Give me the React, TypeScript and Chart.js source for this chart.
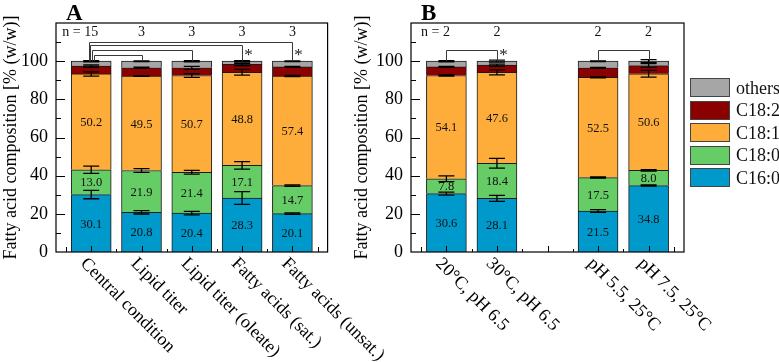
import React, { useEffect, useRef } from 'react';
import { Chart, registerables } from 'chart.js';

Chart.register(...registerables);

const W = 779;
const H = 362;
const FONT = '"Liberation Serif", "Times New Roman", serif';

// Fatty acid species, bottom to top of each stack
const seriesNames = ['C16:0', 'C18:0', 'C18:1', 'C18:2', 'others'];
const seriesColors = ['#0099CC', '#66CC66', '#FFAD3A', '#8B0000', '#A6A6A6'];

// Panel A: standard cultivation vs. optimised conditions
const catsA = ['Central condition', 'Lipid titer', 'Lipid titer (oleate)', 'Fatty acids (sat.)', 'Fatty acids (unsat.)'];
const posA = [1, 2, 3, 4, 5];
const c160A = [30.1, 20.8, 20.4, 28.3, 20.1];
const c180A = [13.0, 21.9, 21.4, 17.1, 14.7];
const c181A = [50.2, 49.5, 50.7, 48.8, 57.4];
const c182A = [4.1, 4.3, 4.0, 4.1, 4.8];
const othersA = [2.6, 3.5, 3.5, 1.7, 3.0];
const errC160A = [2.2, 0.9, 0.9, 3.3, 0.4];
const errC180A = [1.9, 1.0, 1.0, 2.0, 0.4];
const errC181A = [1.1, 0.2, 1.0, 1.5, 0.3];
const errC182A = [0.6, 0.3, 0.8, 0.6, 0.3];
const errOthersA = [0.3, 0.2, 0.3, 0.3, 0.2];
const nA = [15, 3, 3, 3, 3];
// pairwise comparisons: [from, to, bracket level (%), significant]
const bracketsA: [number, number, number, boolean][] = [
  [1, 5, 110, true],
  [1, 4, 108.4, true],
  [1, 3, 105.6, false],
  [1, 2, 103, false],
];

// Panel B: temperature and pH variations
const catsB = ['20°C, pH 6.5', '30°C, pH 6.5', 'pH 5.5, 25°C', 'pH 7.5, 25°C'];
const posB = [1, 2, 4, 5];
const c160B = [30.6, 28.1, 21.5, 34.8];
const c180B = [7.8, 18.4, 17.5, 8.0];
const c181B = [54.1, 47.6, 52.5, 50.6];
const c182B = [4.5, 3.8, 5.0, 4.3];
const othersB = [3.0, 2.1, 3.5, 2.3];
const errC160B = [0.8, 1.6, 0.7, 0.3];
const errC180B = [1.5, 2.6, 0.3, 0.4];
const errC181B = [0.3, 1.3, 0.3, 1.8];
const errC182B = [0.3, 0.6, 0.2, 1.0];
const errOthersB = [0.3, 0.5, 0.2, 0.8];
const nB = [2, 2, 2, 2];
const bracketsB: [number, number, number, boolean][] = [
  [1, 2, 105.6, true],
  [4, 5, 105.6, false],
];

const yTicks = [0, 20, 40, 60, 80, 100, 120];

interface PanelCfg {
  letter: string;
  cats: string[];
  pos: number[];
  series: number[][];
  errs: number[][];
  n: number[];
  brackets: [number, number, number, boolean][];
  padLeft: number;
  padRight: number;
  axisWidth: number;
}

const panelA: PanelCfg = {
  letter: 'A',
  cats: catsA,
  pos: posA,
  series: [c160A, c180A, c181A, c182A, othersA],
  errs: [errC160A, errC180A, errC181A, errC182A, errOthersA],
  n: nA,
  brackets: bracketsA,
  padLeft: 0,
  padRight: W - 327.6,
  axisWidth: 56,
};

const panelB: PanelCfg = {
  letter: 'B',
  cats: catsB,
  pos: posB,
  series: [c160B, c180B, c181B, c182B, othersB],
  errs: [errC160B, errC180B, errC181B, errC182B, errOthersB],
  n: nB,
  brackets: bracketsB,
  padLeft: 351,
  padRight: W - 684,
  axisWidth: 60,
};

function makeOverlay(cfg: PanelCfg) {
  return {
    id: 'panelOverlay',
    afterDatasetsDraw(chart: any) {
      const ctx: CanvasRenderingContext2D = chart.ctx;
      const xs = chart.scales.x;
      const ys = chart.scales.y;
      const { left, right, top, bottom } = chart.chartArea;
      ctx.save();

      // segment value labels (C16:0, C18:0, C18:1)
      ctx.font = `12.5px ${FONT}`;
      ctx.fillStyle = '#111';
      ctx.textAlign = 'center';
      ctx.textBaseline = 'middle';
      for (let d = 0; d < 3; d++) {
        const meta = chart.getDatasetMeta(d);
        meta.data.forEach((el: any, i: number) => {
          const p = el.getProps(['x', 'y', 'base'], true);
          ctx.fillText(cfg.series[d][i].toFixed(1), p.x, (p.y + p.base) / 2 + 1);
        });
      }

      // error bars at the cumulative top of each segment
      ctx.strokeStyle = '#000';
      ctx.lineWidth = 1.3;
      cfg.pos.forEach((xv, i) => {
        const cx = xs.getPixelForValue(xv);
        let cum = 0;
        for (let d = 0; d < cfg.series.length; d++) {
          cum += cfg.series[d][i];
          const e = cfg.errs[d][i];
          const y1 = ys.getPixelForValue(cum + e);
          const y2 = ys.getPixelForValue(cum - e);
          ctx.beginPath();
          ctx.moveTo(cx, y1);
          ctx.lineTo(cx, y2);
          ctx.moveTo(cx - 8, y1);
          ctx.lineTo(cx + 8, y1);
          ctx.moveTo(cx - 8, y2);
          ctx.lineTo(cx + 8, y2);
          ctx.stroke();
        }
      });

      // frame
      ctx.lineWidth = 1.2;
      ctx.strokeStyle = '#000';
      ctx.strokeRect(left, top, right - left, bottom - top);

      // y ticks (inside, left)
      ctx.lineWidth = 1;
      ctx.beginPath();
      for (let v = 10; v < 120; v += 10) {
        const y = Math.round(ys.getPixelForValue(v)) + 0.5;
        const len = v % 20 === 0 ? 9 : 5;
        ctx.moveTo(left, y);
        ctx.lineTo(left + len, y);
      }
      // x ticks (inside, bottom)
      for (let v = 0.5; v <= 5.5; v += 0.5) {
        const x = Math.round(xs.getPixelForValue(v)) + 0.5;
        let len = Number.isInteger(v) ? 6 : 3;
        if (v === 0.5 || v === 5.5) len = 5;
        ctx.moveTo(x, bottom);
        ctx.lineTo(x, bottom - len);
      }
      ctx.stroke();

      // sample counts
      ctx.font = `14px ${FONT}`;
      ctx.fillStyle = '#111';
      const yN = ys.getPixelForValue(115);
      cfg.pos.forEach((xv, i) => {
        const cx = xs.getPixelForValue(xv);
        const txt = String(cfg.n[i]);
        ctx.textAlign = 'center';
        ctx.fillText(txt, cx, yN);
        if (i === 0) {
          ctx.textAlign = 'right';
          ctx.fillText('n = ', cx - ctx.measureText(txt).width / 2, yN);
        }
      });

      // comparison brackets
      ctx.strokeStyle = '#3a3a3a';
      ctx.lineWidth = 1;
      const yBar = ys.getPixelForValue(100);
      cfg.brackets.forEach((b, k) => {
        const group = cfg.brackets.filter((o) => o[0] === b[0]);
        const idx = group.indexOf(b);
        const off = (idx - (group.length - 1) / 2) * 1.7;
        const x1 = Math.round(xs.getPixelForValue(b[0]) + off) + 0.5;
        const x2 = Math.round(xs.getPixelForValue(b[1])) + 0.5;
        const yl = Math.round(ys.getPixelForValue(b[2])) + 0.5;
        ctx.beginPath();
        ctx.moveTo(x1, yBar);
        ctx.lineTo(x1, yl);
        ctx.lineTo(x2, yl);
        ctx.lineTo(x2, yBar);
        ctx.stroke();
        if (b[3]) {
          ctx.font = `17px ${FONT}`;
          ctx.fillStyle = '#222';
          ctx.textAlign = 'center';
          ctx.textBaseline = 'middle';
          ctx.fillText('*', x2 + 6, yBar - 6);
        }
      });

      // panel letter
      ctx.font = `bold 23px ${FONT}`;
      ctx.fillStyle = '#000';
      ctx.textAlign = 'left';
      ctx.textBaseline = 'alphabetic';
      ctx.fillText(cfg.letter, left + 10, 20);

      // rotated category labels
      ctx.font = `18px ${FONT}`;
      ctx.textAlign = 'left';
      ctx.textBaseline = 'middle';
      cfg.pos.forEach((xv, i) => {
        const cx = xs.getPixelForValue(xv);
        ctx.save();
        ctx.translate(cx - 8, bottom + 9);
        ctx.rotate(Math.PI / 4);
        ctx.fillText(cfg.cats[i], 0, 0);
        ctx.restore();
      });

      ctx.restore();
    },
  };
}

function Panel({ cfg }: { cfg: PanelCfg }) {
  const ref = useRef<HTMLCanvasElement>(null);
  useEffect(() => {
    const canvas = ref.current!;
    const datasets = seriesNames.map((name, d) => ({
      label: name,
      data: cfg.pos.map((p, i) => ({ x: p, y: cfg.series[d][i] })),
      backgroundColor: seriesColors[d],
      borderColor: '#1a1a1a',
      borderWidth: 1,
      barThickness: 40,
      stack: 'fa',
    }));
    const chart = new Chart(canvas, {
      type: 'bar',
      data: { datasets },
      options: {
        animation: false,
        responsive: false,
        devicePixelRatio: 1,
        layout: { padding: { left: cfg.padLeft, right: cfg.padRight, top: 23, bottom: 0 } },
        plugins: { legend: { display: false }, tooltip: { enabled: false } },
        scales: {
          x: {
            type: 'linear',
            min: 0.3,
            max: 5.7,
            stacked: true,
            offset: false,
            grid: { display: false },
            border: { display: false },
            ticks: { display: false },
            afterFit: (s: any) => {
              s.height = 110;
            },
          },
          y: {
            min: 0,
            max: 120,
            stacked: true,
            grid: { display: false, drawTicks: false },
            border: { display: false },
            afterBuildTicks: (s: any) => {
              s.ticks = yTicks.map((v) => ({ value: v }));
            },
            ticks: {
              padding: 8,
              color: '#000',
              font: { family: FONT, size: 18 },
              callback: (v: any) => (Number(v) > 100 ? '' : String(v)),
            },
            title: {
              display: true,
              text: 'Fatty acid composition [% (w/w)]',
              color: '#000',
              font: { family: FONT, size: 18 },
              padding: { top: 0, bottom: 0 },
            },
            afterFit: (s: any) => {
              s.width = cfg.axisWidth;
            },
          },
        },
      },
      plugins: [makeOverlay(cfg)],
    } as any);
    return () => chart.destroy();
  }, [cfg]);
  return (
    <canvas
      ref={ref}
      width={W}
      height={H}
      style={{ position: 'absolute', left: 0, top: 0, width: W, height: H }}
    />
  );
}

const legendOrder = [4, 3, 2, 1, 0];

function Legend() {
  return (
    <div style={{ position: 'absolute', left: 690, top: 78 }}>
      {legendOrder.map((s, k) => (
        <React.Fragment key={s}>
          <div
            style={{
              position: 'absolute',
              left: 0,
              top: k * 22.5,
              width: 40,
              height: 19,
              boxSizing: 'border-box',
              border: '1.5px solid #444',
              background: seriesColors[s],
            }}
          />
          <div
            style={{
              position: 'absolute',
              left: 46,
              top: k * 22.5 - 1.5,
              lineHeight: '22px',
              fontSize: 18,
              fontFamily: FONT,
              color: '#111',
              whiteSpace: 'nowrap',
            }}
          >
            {seriesNames[s]}
          </div>
        </React.Fragment>
      ))}
    </div>
  );
}

export default function App() {
  return (
    <div
      style={{
        position: 'absolute',
        left: 0,
        top: 0,
        width: W,
        height: H,
        background: '#fff',
        overflow: 'hidden',
      }}
    >
      <Panel cfg={panelA} />
      <Panel cfg={panelB} />
      <Legend />
    </div>
  );
}
